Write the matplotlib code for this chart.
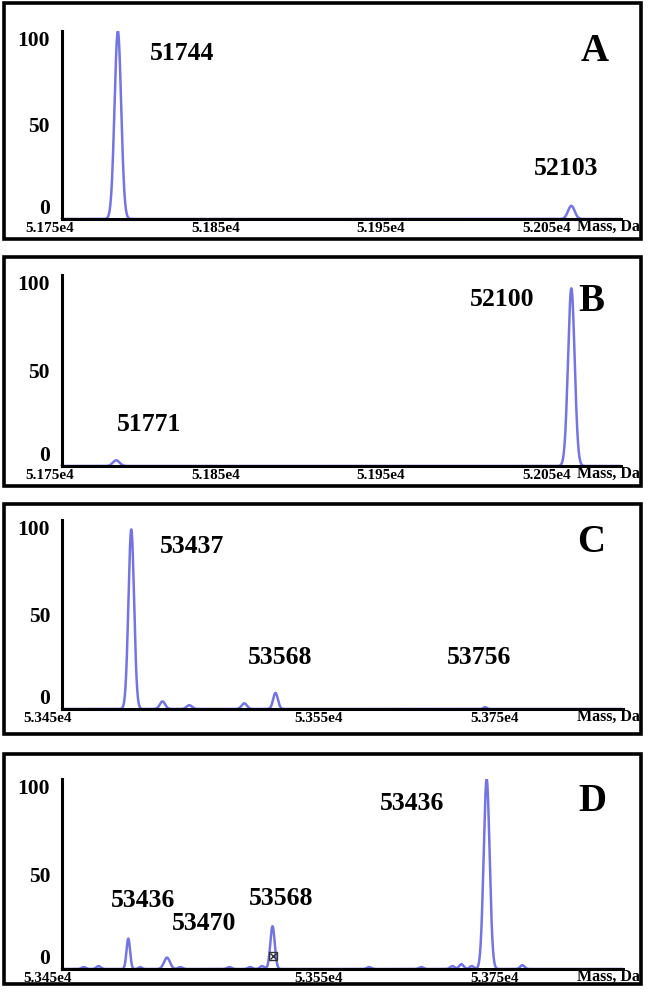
import numpy as np
import matplotlib.pyplot as plt
from matplotlib.patches import Rectangle
from matplotlib.ticker import FixedLocator, FixedFormatter

plt.rcParams['font.family'] = ['Liberation Serif', 'DejaVu Serif']
plt.rcParams['font.weight'] = 'bold'

# ---- data (positions on the drawn mass axis, heights in %) ----
a_centers = [51791, 52065]
a_heights = [100, 7]
a_sigmas = [2.0, 2.0]

b_centers = [51790, 52065]
b_heights = [3, 93]
b_sigmas = [2.0, 2.0]

c_centers = [53506, 53527, 53545, 53582, 53603, 53744]
c_heights = [95, 4, 2, 3, 8.5, 1]
c_sigmas = [1.9, 1.8, 1.8, 1.8, 1.6, 1.2]

d_centers = [53474, 53484, 53504, 53512, 53530, 53539, 53572, 53586, 53594, 53601,
             53666, 53701, 53722, 53728, 53735, 53745, 53769]
d_heights = [1, 1.5, 16, 1, 6, 1, 1, 1, 1.5, 22.5, 1, 1, 1.5, 2.5, 1.5, 100, 2]
d_sigmas = [1.5, 1.5, 1.2, 1.2, 2.0, 1.5, 1.5, 1.5, 1.5, 1.5, 1.5, 1.5, 1.5, 1.5, 1.5, 2.0, 1.5]

# peak annotations (text, mass, height)
a_notes = [("51744", 51830, 88), ("52103", 52062, 27)]
b_notes = [("52100", 52023, 87), ("51771", 51810, 21.5)]
c_notes = [("53437", 53547, 86), ("53568", 53606, 27), ("53756", 53740, 27)]
d_notes = [("53436", 53514, 36), ("53470", 53555, 24), ("53568", 53607, 37),
           ("53436", 53695, 87)]

ab_ticks = [51750, 51850, 51950, 52050]
ab_ticklabels = ["5.175e4", "5.185e4", "5.195e4", "5.205e4"]
cd_ticks = [53450, 53632, 53750]
cd_ticklabels = ["5.345e4", "5.355e4", "5.375e4"]

y_ticks = [0, 50, 100]

W, H = 648, 996
fig = plt.figure(figsize=(W / 100, H / 100), dpi=100)


def px_rect(l, t, r, b):
    return [l / W, 1 - b / H, (r - l) / W, (b - t) / H]


def spectrum(x, centers, heights, sigmas):
    y = np.zeros_like(x)
    for c, h, s in zip(centers, heights, sigmas):
        y += h * np.exp(-0.5 * ((x - c) / s) ** 2)
    return y


panels = [
    dict(letter="A", frame=(4, 3, 641, 239), box=(50, 31, 621, 219), xlim=(51750, 52095),
         spine=51757, ticks=ab_ticks, labels=ab_ticklabels,
         peaks=(a_centers, a_heights, a_sigmas), notes=a_notes, lpos=(52079, 89)),
    dict(letter="B", frame=(4, 257, 641, 486), box=(50, 275, 621, 466), xlim=(51750, 52095),
         spine=51757, ticks=ab_ticks, labels=ab_ticklabels,
         peaks=(b_centers, b_heights, b_sigmas), notes=b_notes, lpos=(52077, 86)),
    dict(letter="C", frame=(4, 504, 641, 734), box=(48, 520, 623, 709), xlim=(53450, 53836.7),
         spine=53459.4, ticks=cd_ticks, labels=cd_ticklabels,
         peaks=(c_centers, c_heights, c_sigmas), notes=c_notes, lpos=(53815, 88)),
    dict(letter="D", frame=(4, 754, 641, 984), box=(48, 779, 623, 969), xlim=(53450, 53836.7),
         spine=53459.4, ticks=cd_ticks, labels=cd_ticklabels,
         peaks=(d_centers, d_heights, d_sigmas), notes=d_notes, lpos=(53816, 88)),
]

for p in panels:
    l, t, r, b = p["frame"]
    fig.patches.append(Rectangle((l / W, 1 - b / H), (r - l) / W, (b - t) / H,
                                 transform=fig.transFigure, fill=False,
                                 edgecolor="black", linewidth=2.6))

    ax = fig.add_axes(px_rect(*p["box"]))
    x0, x1 = p["xlim"]
    x = np.linspace(p["spine"], x1, 6000)
    y = spectrum(x, *p["peaks"])
    ax.plot(x, y, color="#7474e2", linewidth=1.8, solid_joinstyle="round")
    ax.set_xlim(x0, x1)
    ax.set_ylim(0, 100)

    for side in ["top", "right"]:
        ax.spines[side].set_visible(False)
    ax.spines["left"].set_position(("data", p["spine"]))
    ax.spines["bottom"].set_bounds(p["spine"], x1)
    ax.spines["left"].set_linewidth(2.2)
    ax.spines["bottom"].set_linewidth(2.2)

    ax.xaxis.set_major_locator(FixedLocator(p["ticks"]))
    ax.xaxis.set_major_formatter(FixedFormatter(p["labels"]))
    ax.set_yticks(y_ticks)
    ylabs = ax.set_yticklabels([str(v) for v in y_ticks])
    ylabs[0].set_verticalalignment("bottom")
    ylabs[-1].set_verticalalignment("top")
    ax.tick_params(axis="x", length=0, pad=2.5, labelsize=11)
    ax.tick_params(axis="y", length=0, pad=8.5, labelsize=15.5)
    ax.set_facecolor("none")

    for txt, xm, yh in p["notes"]:
        ax.text(xm, yh, txt, ha="center", va="center", fontsize=18.5, fontweight="bold")
    ax.text(p["lpos"][0], p["lpos"][1], p["letter"], ha="center", va="center",
            fontsize=28, fontweight="bold")
    fig.text(577 / W, 1 - (p["box"][3] + 8) / H, "Mass, Da", ha="left", va="center",
             fontsize=11.5, fontweight="bold")

    if p["letter"] == "D":
        ax.plot([53601], [7], marker="s", ms=6, mfc="none", mec="#333333", mew=1.0)
        ax.plot([53601], [7], marker="x", ms=5, color="#333333", mew=1.0)

fig.savefig("out.png", dpi=100)
